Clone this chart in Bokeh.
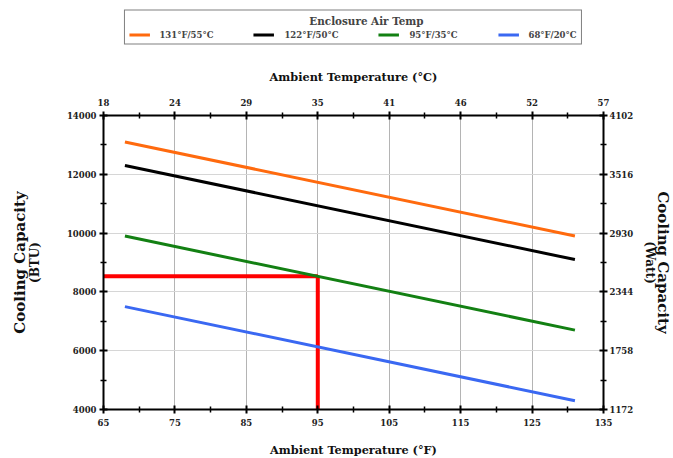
from bokeh.plotting import figure
from bokeh.layouts import column
from bokeh.models import LinearAxis, FixedTicker, Legend, LegendItem, Range1d
from bokeh.embed import file_html
from bokeh.resources import INLINE

# ---- data ----
temp_f = [68, 131]
cap_131f = [13100, 9900]
cap_122f = [12300, 9100]
cap_95f = [9900, 6700]
cap_68f = [7500, 4300]
series_names = ["131°F/55°C", "122°F/50°C", "95°F/35°C", "68°F/20°C"]
series_colors = ["#ff6a0e", "#000000", "#138013", "#3a68f2"]

f_ticks = [65, 75, 85, 95, 105, 115, 125, 135]
f_minor = [70, 80, 90, 100, 110, 120, 130]
c_labels = ["18", "24", "29", "35", "41", "46", "52", "57"]
btu_ticks = [4000, 6000, 8000, 10000, 12000, 14000]
btu_minor = [5000, 7000, 9000, 11000, 13000]
watt_labels = ["1172", "1758", "2344", "2930", "3516", "4102"]
design_temp_f = 95
design_cap_btu = 8530

FONT = "DejaVu Serif"
series_caps = [cap_131f, cap_122f, cap_95f, cap_68f]

p = figure(frame_width=500, frame_height=294, output_backend="svg",
           toolbar_location=None,
           x_range=Range1d(f_ticks[0], f_ticks[-1]),
           y_range=Range1d(btu_ticks[0], btu_ticks[-1]),
           min_border_left=103, min_border_right=70,
           min_border_top=62, min_border_bottom=49)
p.outline_line_color = None
p.background_fill_color = "white"
p.border_fill_color = "white"

def style(ax, tick_size="8.5px", label_size="11.3px"):
    ax.axis_line_width = 2
    ax.axis_line_color = "black"
    ax.major_tick_line_width = 2
    ax.major_tick_line_color = "black"
    ax.major_tick_in = 4
    ax.major_tick_out = 4
    ax.minor_tick_line_width = 1.5
    ax.minor_tick_line_color = "black"
    ax.minor_tick_in = 3
    ax.minor_tick_out = 3
    ax.major_label_text_font = FONT
    ax.major_label_text_font_style = "bold"
    ax.major_label_text_font_size = tick_size
    ax.major_label_text_color = "#222222"
    ax.axis_label_text_font = FONT
    ax.axis_label_text_font_style = "bold"
    ax.axis_label_text_font_size = label_size
    ax.axis_label_text_color = "#111111"

def label_only_axis(text, size, standoff):
    ax = LinearAxis(ticker=FixedTicker(ticks=[]), axis_label=text,
                    axis_line_color=None, major_tick_line_color=None,
                    minor_tick_line_color=None, major_tick_out=0, minor_tick_out=0,
                    major_tick_in=0, minor_tick_in=0, major_label_standoff=0,
                    axis_label_standoff=standoff)
    ax.axis_label_text_font = FONT
    ax.axis_label_text_font_style = "bold"
    ax.axis_label_text_font_size = size
    ax.axis_label_text_color = "#111111"
    return ax

# bottom axis (°F)
xa = p.xaxis[0]
xa.ticker = FixedTicker(ticks=f_ticks, minor_ticks=f_minor)
xa.axis_label = "Ambient Temperature (°F)"
style(xa)
xa.major_label_standoff = 5
xa.axis_label_standoff = 14

# left axis (BTU)
ya = p.yaxis[0]
ya.ticker = FixedTicker(ticks=btu_ticks, minor_ticks=btu_minor)
ya.axis_label = "(BTU)"
style(ya, label_size="12px")
ya.major_label_standoff = 3
ya.axis_label_standoff = 22
p.add_layout(label_only_axis("Cooling Capacity", "15px", -4), "left")

# top axis (°C)
xt = LinearAxis(ticker=FixedTicker(ticks=f_ticks, minor_ticks=f_minor),
                major_label_overrides={t: l for t, l in zip(f_ticks, c_labels)},
                axis_label="Ambient Temperature (°C)")
style(xt)
xt.major_label_standoff = 6
xt.axis_label_standoff = 12
p.add_layout(xt, "above")

# right axis (Watt)
yr = LinearAxis(ticker=FixedTicker(ticks=btu_ticks, minor_ticks=btu_minor),
                major_label_overrides={t: l for t, l in zip(btu_ticks, watt_labels)},
                axis_label="(Watt)")
style(yr, label_size="12px")
yr.major_label_standoff = 2
yr.axis_label_standoff = 7
p.add_layout(yr, "right")
p.add_layout(label_only_axis("Cooling Capacity", "15px", -7), "right")

# grids
p.xgrid.ticker = FixedTicker(ticks=f_ticks)
p.ygrid.ticker = FixedTicker(ticks=btu_ticks)
p.xgrid.grid_line_color = "#b4b4b4"
p.ygrid.grid_line_color = "#d6d6d6"
p.xgrid.grid_line_width = 1
p.ygrid.grid_line_width = 1.2

# design point marker lines
p.line(x=[f_ticks[0], design_temp_f], y=[design_cap_btu, design_cap_btu],
       line_color="#ff0000", line_width=4)
p.line(x=[design_temp_f, design_temp_f], y=[btu_ticks[0], design_cap_btu],
       line_color="#ff0000", line_width=4)

# series
for color, ys in zip(series_colors, series_caps):
    p.line(x=temp_f, y=ys, line_color=color, line_width=3)

# ---- legend strip (separate figure above the chart) ----
leg = figure(width=673, height=53, output_backend="svg", toolbar_location=None,
             x_axis_type=None, y_axis_type=None, min_border=0,
             x_range=Range1d(0, 1), y_range=Range1d(0, 1))
leg.outline_line_color = None
leg.grid.visible = False
items = []
for name, color, ys in zip(series_names, series_colors, series_caps):
    # same series, drawn outside this strip's view: only its legend glyph shows
    r = leg.line(x=temp_f, y=ys, line_color=color, line_width=3)
    items.append(LegendItem(label=name, renderers=[r]))

pad = "\u00a0" * 50
legend = Legend(items=items, orientation="horizontal", location="center",
                title=pad + "Enclosure Air Temp",
                title_text_font=FONT, title_text_font_style="bold",
                title_text_font_size="10.4px", title_standoff=3,
                label_text_font=FONT, label_text_font_style="bold",
                label_text_font_size="8.5px", label_height=10, glyph_height=10,
                glyph_width=21, label_standoff=10, spacing=40, padding=4,
                border_line_color="black", border_line_width=1.5,
                background_fill_color="white", margin=0)
leg.add_layout(legend, "center")

layout = column(leg, p, spacing=0)
open("out.html", "w").write(file_html(layout, INLINE))
